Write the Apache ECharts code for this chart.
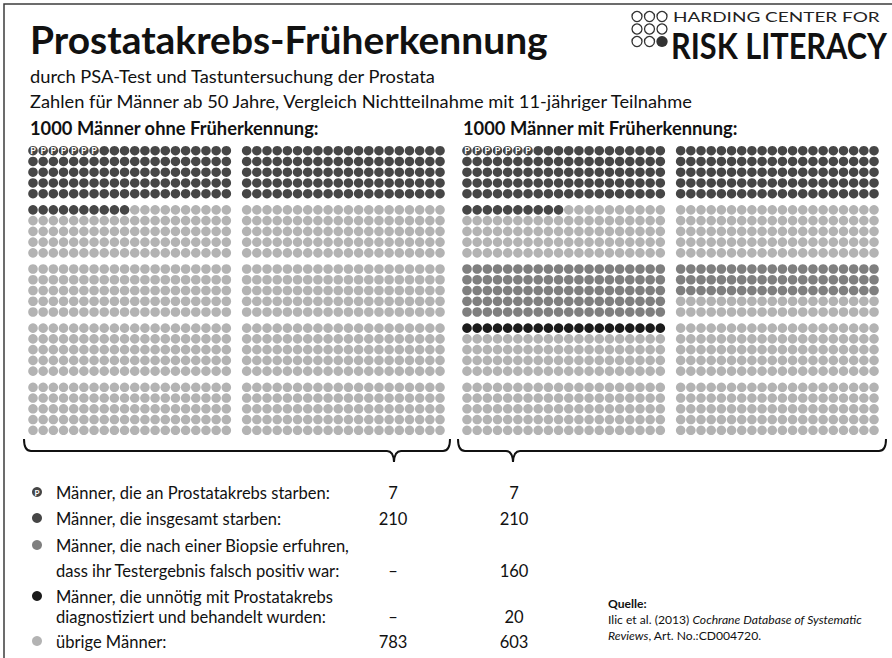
<!DOCTYPE html>
<html><head><meta charset="utf-8">
<script src="https://cdn.jsdelivr.net/npm/echarts@6/dist/echarts.min.js"></script>
<style>html,body{margin:0;padding:0;background:#fff}#c{width:892px;height:658px}</style>
</head><body><div id="c"></div>
<script>
// ---------- data ----------
const chartTitle = 'Prostatakrebs-Früherkennung';
const subtitles = ['durch PSA-Test und Tastuntersuchung der Prostata',
  'Zahlen für Männer ab 50 Jahre, Vergleich Nichtteilnahme mit 11-jähriger Teilnahme'];
const panelTitles = ['1000 Männer ohne Früherkennung:', '1000 Männer mit Früherkennung:'];
const categories = ['P', 'D', 'F', 'T', 'O'];
const categoryNames = ['an Prostatakrebs gestorben', 'insgesamt gestorben', 'falsch positiv', 'überdiagnostiziert', 'übrige'];
const legendLines = [
  ['Männer, die an Prostatakrebs starben:'],
  ['Männer, die insgesamt starben:'],
  ['Männer, die nach einer Biopsie erfuhren,', 'dass ihr Testergebnis falsch positiv war:'],
  ['Männer, die unnötig mit Prostatakrebs', 'diagnostiziert und behandelt wurden:'],
  ['übrige Männer:']
];
const valuesWithout = ['7', '210', '–', '–', '783'];
const valuesWith = ['7', '210', '160', '20', '603'];
// icon array: 10 blocks of 100 (2 columns x 5 rows), each block filled row by row
const blocksWithout = [
  [['P', 7], ['D', 93]], [['D', 100]],
  [['D', 10], ['O', 90]], [['O', 100]],
  [['O', 100]], [['O', 100]],
  [['O', 100]], [['O', 100]],
  [['O', 100]], [['O', 100]]
];
const blocksWith = [
  [['P', 7], ['D', 93]], [['D', 100]],
  [['D', 10], ['O', 90]], [['O', 100]],
  [['F', 100]], [['F', 60], ['O', 40]],
  [['T', 20], ['O', 80]], [['O', 100]],
  [['O', 100]], [['O', 100]]
];
const logoTop = 'HARDING CENTER FOR';
const logoBottom = 'RISK LITERACY';
const sourceHead = 'Quelle:';
const sourceLine1 = ['Ilic et al. (2013) ', 'Cochrane Database of Systematic'];
const sourceLine2 = ['Reviews', ', Art. No.:CD004720.'];

// ---------- styling ----------
const COLORS = { P: '#464646', D: '#464646', F: '#7f7f7f', T: '#1b1b1b', O: '#b3b3b3' };
const FONT = 'Lato';
const cx = document.createElement('canvas').getContext('2d');
function tw(text, font) { cx.font = font; return cx.measureText(text).width; }

function buildPoints(blocks) {
  const out = {}; categories.forEach(c => out[c] = []);
  blocks.forEach((segs, i) => {
    const br = Math.floor(i / 2), bc = i % 2;
    let k = 0;
    segs.forEach(([cat, n]) => {
      for (let j = 0; j < n; j++, k++) {
        const col = k % 20, row = Math.floor(k / 20);
        out[cat].push([bc * 21 + col, br * 5.5 + row]);
      }
    });
  });
  return out;
}

const panels = [buildPoints(blocksWithout), buildPoints(blocksWith)];
const series = [];
panels.forEach((pts, p) => {
  categories.forEach((c, ci) => {
    if (!pts[c].length) return;
    series.push({
      type: 'scatter', name: categoryNames[ci], xAxisIndex: p, yAxisIndex: p,
      data: pts[c], symbol: 'circle', symbolSize: 9.6, silent: true,
      itemStyle: { color: COLORS[c], opacity: 1 },
      label: c === 'P' ? { show: true, formatter: 'P', position: 'inside', color: '#fff',
        fontSize: 9, fontWeight: 'bold', fontFamily: FONT, textBorderWidth: 0 } : { show: false },
      z: c === 'P' ? 3 : 2
    });
  });
});

const gridLefts = [27.9, 461.9];
const grids = gridLefts.map(l => ({ left: l, top: 145.3, width: 417.2, height: 290.4 }));
const xAxes = grids.map((g, i) => ({ type: 'value', gridIndex: i, min: -0.5, max: 40.5, show: false }));
const yAxes = grids.map((g, i) => ({ type: 'value', gridIndex: i, min: -0.5, max: 26.5, inverse: true, show: false }));

// ---------- text / decoration ----------
const g = [];
function txt(text, x, y, font, targetW, opts) {
  const sc = targetW ? targetW / tw(text, font) : 1;
  g.push(Object.assign({ type: 'text', x: x, y: y, scaleX: sc, silent: true,
    style: { text: text, font: font, fill: '#111', align: 'left', verticalAlign: 'middle' } }, opts || {}));
  return sc;
}
// frame
g.push({ type: 'rect', shape: { x: 4, y: 4, width: 920, height: 700 }, silent: true,
  style: { fill: 'none', stroke: '#3c3c3c', lineWidth: 1.5 } });
// title + subtitles
txt(chartTitle, 30, 39, 'bold 39px ' + FONT, 518);
const subFont = '18px ' + FONT;
const subSc = 665 / tw(subtitles[1], subFont);
subtitles.forEach((s, i) => g.push({ type: 'text', x: 30, y: 76 + i * 25, scaleX: subSc, silent: true,
  style: { text: s, font: subFont, fill: '#111', verticalAlign: 'middle' } }));
// panel titles
const ptFont = 'bold 19px ' + FONT;
const ptSc = 289 / tw(panelTitles[0], ptFont);
[30, 463].forEach((x, i) => g.push({ type: 'text', x: x, y: 128, scaleX: ptSc, silent: true,
  style: { text: panelTitles[i], font: ptFont, fill: '#111', verticalAlign: 'middle' } }));
// logo
const logoX = [637, 649.5, 662], logoY = [16.5, 29, 41.5];
logoY.forEach((yy, r) => logoX.forEach((xx, c) => {
  const filled = (r === 2 && c === 2);
  g.push({ type: 'circle', shape: { cx: xx, cy: yy, r: filled ? 5.6 : 5 }, silent: true,
    style: { fill: filled ? '#333' : 'none', stroke: '#333', lineWidth: filled ? 0 : 1.3 } });
}));
txt(logoTop, 673, 17, '13px ' + FONT, 207, { style: { text: logoTop, font: '13px ' + FONT, fill: '#222', verticalAlign: 'middle' } });
txt(logoBottom, 671, 44, 'bold 37px ' + FONT, 216, {});
// braces
function brace(x0, xt, x1, yTop, yLine, yTip) {
  const st = { stroke: '#111', lineWidth: 2, fill: 'none' };
  const parts = [
    { type: 'bezierCurve', shape: { x1: x0, y1: yTop, cpx1: x0, cpy1: yLine, x2: x0 + 7, y2: yLine } },
    { type: 'line', shape: { x1: x0 + 7, y1: yLine, x2: xt - 7, y2: yLine } },
    { type: 'bezierCurve', shape: { x1: xt - 7, y1: yLine, cpx1: xt - 0.5, cpy1: yLine, x2: xt, y2: yTip } },
    { type: 'bezierCurve', shape: { x1: xt, y1: yTip, cpx1: xt + 0.5, cpy1: yLine, x2: xt + 7, y2: yLine } },
    { type: 'line', shape: { x1: xt + 7, y1: yLine, x2: x1 - 7, y2: yLine } },
    { type: 'bezierCurve', shape: { x1: x1 - 7, y1: yLine, cpx1: x1, cpy1: yLine, x2: x1, y2: yTop } }
  ];
  parts.forEach(p => { p.style = st; p.silent = true; g.push(p); });
}
brace(24, 394, 450, 439, 451, 462);
brace(458, 513, 886, 439, 451, 462);
// legend
const legFont = '17.5px ' + FONT;
const legSc = 274 / tw(legendLines[0][0], legFont);
const lineYs = [[492], [518], [545, 570], [596, 616], [641]];
const iconCats = ['P', 'D', 'F', 'T', 'O'];
legendLines.forEach((lines, i) => {
  const ys = lineYs[i];
  g.push({ type: 'circle', shape: { cx: 37, cy: ys[0], r: 5 }, silent: true, style: { fill: COLORS[iconCats[i]] } });
  if (iconCats[i] === 'P') g.push({ type: 'text', x: 37, y: ys[0] + 0.5, silent: true,
    style: { text: 'P', font: 'bold 8px ' + FONT, fill: '#fff', align: 'center', verticalAlign: 'middle' } });
  lines.forEach((l, j) => g.push({ type: 'text', x: 56, y: ys[j], scaleX: legSc, silent: true,
    style: { text: l, font: legFont, fill: '#111', verticalAlign: 'middle' } }));
  const yv = ys[ys.length - 1];
  g.push({ type: 'text', x: 393, y: yv, scaleX: legSc, silent: true,
    style: { text: valuesWithout[i], font: legFont, fill: '#111', align: 'center', verticalAlign: 'middle' } });
  g.push({ type: 'text', x: 514, y: yv, scaleX: legSc, silent: true,
    style: { text: valuesWith[i], font: legFont, fill: '#111', align: 'center', verticalAlign: 'middle' } });
});
// source
const srcFont = '12px ' + FONT, srcIt = 'italic 12px ' + FONT;
const srcSc = 254 / (tw(sourceLine1[0], srcFont) + tw(sourceLine1[1], srcIt));
g.push({ type: 'text', x: 608, y: 604, silent: true, scaleX: srcSc,
  style: { text: sourceHead, font: 'bold 12px ' + FONT, fill: '#111', verticalAlign: 'middle' } });
g.push({ type: 'text', x: 608, y: 620, silent: true, scaleX: srcSc,
  style: { text: '{n|' + sourceLine1[0] + '}{i|' + sourceLine1[1] + '}', verticalAlign: 'middle',
    rich: { n: { font: srcFont, fill: '#111' }, i: { font: srcIt, fill: '#111' } } } });
g.push({ type: 'text', x: 608, y: 636, silent: true, scaleX: srcSc,
  style: { text: '{i|' + sourceLine2[0] + '}{n|' + sourceLine2[1] + '}', verticalAlign: 'middle',
    rich: { n: { font: srcFont, fill: '#111' }, i: { font: srcIt, fill: '#111' } } } });

const chart = echarts.init(document.getElementById('c'), null, { renderer: 'svg' });
chart.setOption({
  animation: false,
  backgroundColor: '#fff',
  grid: grids, xAxis: xAxes, yAxis: yAxes,
  series: series,
  graphic: { elements: g }
});
</script></body></html>
